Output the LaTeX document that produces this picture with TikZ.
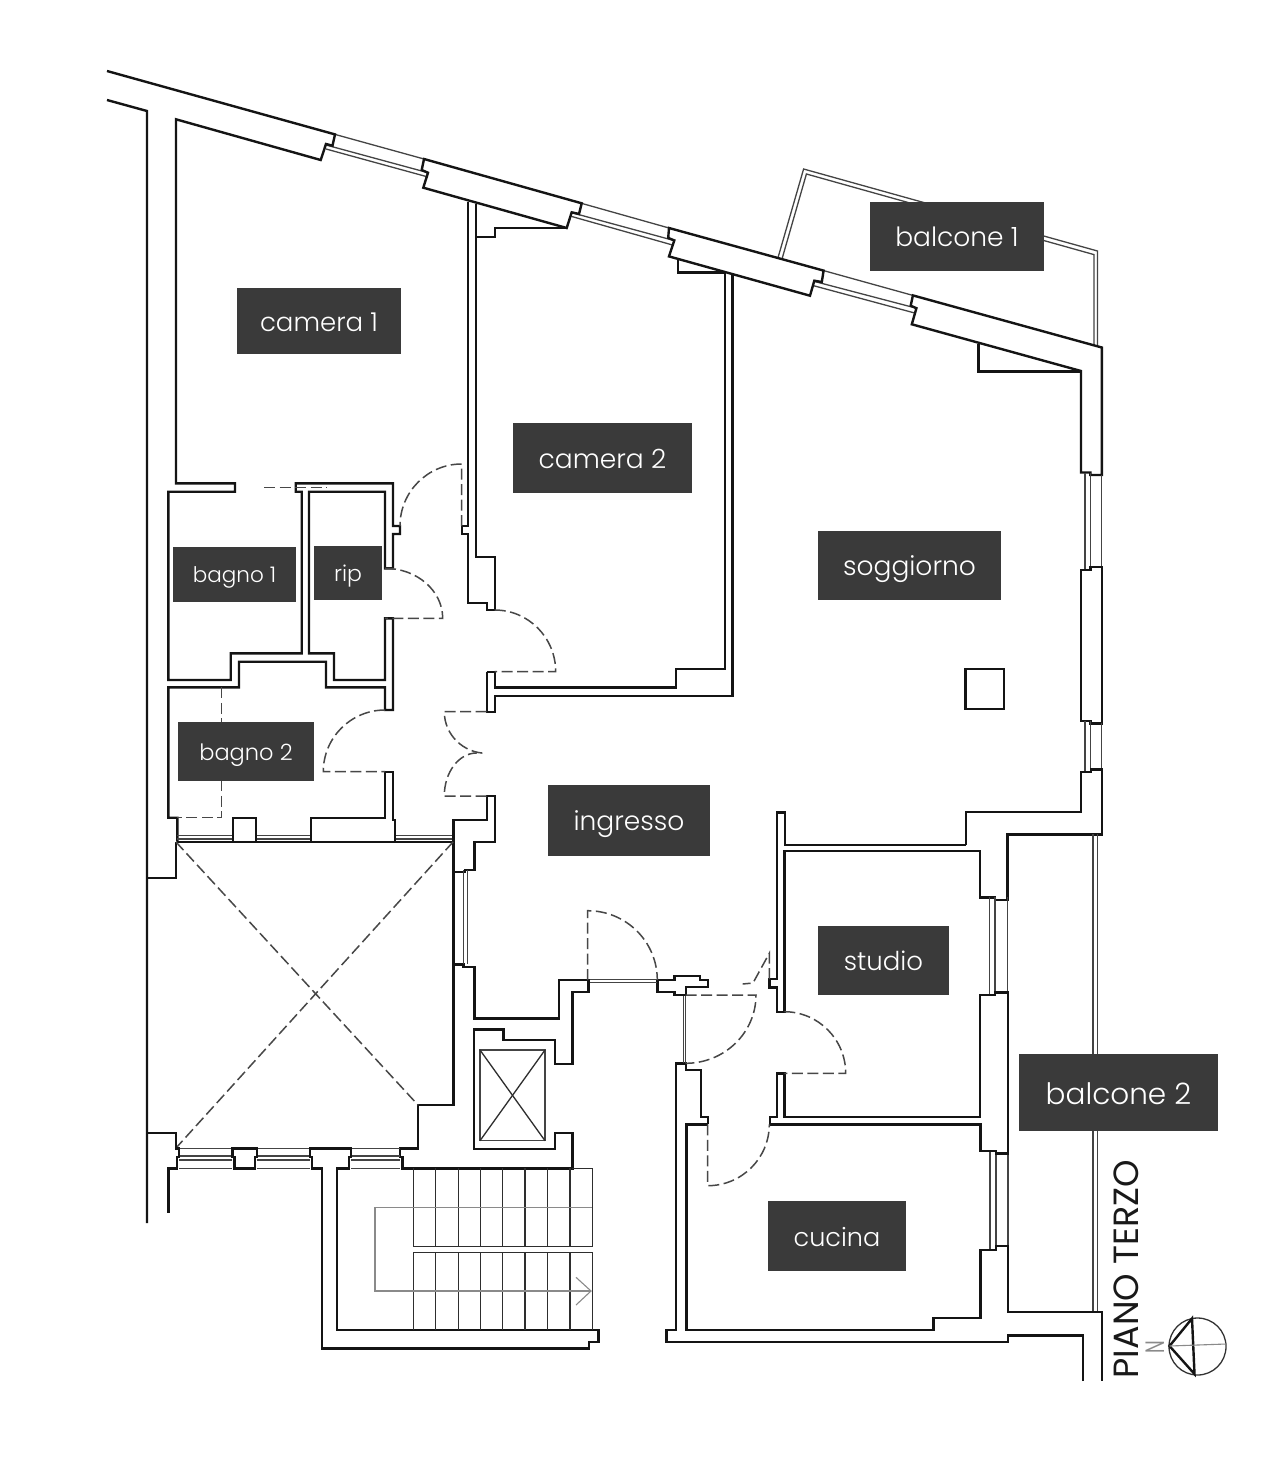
\documentclass[tikz,border=0pt]{standalone}
\usepackage{fontspec}
\newfontfamily\labfont{Poppins Light}
\newfontfamily\capfont{Poppins}
\definecolor{labbg}{HTML}{3A3A3A}
\definecolor{thinc}{HTML}{444444}
\definecolor{grayc}{HTML}{8A8A8A}
\tikzset{
  wall/.style={draw=black!92,line width=2.4pt,line join=miter,line cap=butt},
  thinl/.style={draw=thinc,line width=1.3pt},
  tread/.style={draw=black!82,line width=1.3pt},
  grayl/.style={draw=grayc,line width=1.1pt},
  doorl/.style={draw=black!72,line width=1.5pt,dash pattern=on 11pt off 4.5pt},
  roomlabel/.style={fill=labbg,text=white,inner sep=0pt,anchor=center,text height=20pt,text depth=0pt},
  labsize/.style={font=\labfont\fontsize{#1}{#1}\selectfont},
}
\begin{document}
\begin{tikzpicture}[x=1pt,y=-1pt]
\useasboundingbox (0,0) rectangle (1284,1475);
\fill[white] (0,0) rectangle (1284,1475);
% balcony 1
\draw[thinl] (777.9,258) -- (803.6,169) -- (1097.5,251) -- (1097.5,345.7);
\draw[thinl] (782,259) -- (806.4,174) -- (1094,254.6) -- (1094,345.7);
% north windows
\draw[thinl] (335,134.4) -- (424,159);
\draw[thinl] (326,145) -- (428,172.7);
\draw[thinl] (326,149) -- (428,177);
\draw[thinl] (581.4,203.3) -- (669,228);
\draw[thinl] (572.5,212.9) -- (673.6,240.4);
\draw[thinl] (571.4,216.4) -- (672.5,245);
\draw[thinl] (823.6,270.6) -- (912.9,295.4);
\draw[thinl] (814.3,281.4) -- (916.4,308.2);
\draw[thinl] (813.6,285.7) -- (914.3,312.9);
% north wall
\draw[wall] (107,71) -- (335,134.4) -- (332.5,145.7) -- (326,144) -- (320.7,160) -- (176,119.3) -- (176,483.3) -- (235,483.3) -- (235,491.7) -- (168.3,491.7) -- (168.3,680) -- (230.7,680) -- (230.7,653.3) -- (301.7,653.3) -- (301.7,491.7) -- (295.7,491.7) -- (295.7,483.3) -- (393,483.3) -- (393,526) -- (400,526) -- (400,534) -- (393,534) -- (393,568.3) -- (385,568.3) -- (385,491.7) -- (309,491.7) -- (309,653.3) -- (334,653.3) -- (334,680) -- (385,680) -- (385,618.3) -- (393,618.3) -- (393,710) -- (385,710) -- (385,687.3) -- (326,687.3) -- (326,661.7) -- (239,661.7) -- (239,687.3) -- (168.3,687.3) -- (168.3,817.7) -- (177.3,817.7) -- (177.3,841.7);
\draw[wall] (107,100) -- (147,111) -- (147,1223);
\draw[wall] (424,159) -- (421.7,170) -- (428,172.7) -- (423.3,187.7) -- (566.7,228) -- (571.7,212.3) -- (579,214) -- (581.7,203.3) -- (424,159) -- cycle;
\draw[wall] (669,228) -- (668.2,237.9) -- (674.3,240.4) -- (669,256.4) -- (810,295.7) -- (814.3,280.7) -- (821.8,282) -- (823.6,270.6) -- cycle;
\draw[wall] (912.9,295.4) -- (910.7,305.7) -- (916.4,308.2) -- (911.8,324.3) -- (1081,371) -- (1081,472.5) -- (1090.4,472.5) -- (1090.4,475) -- (1101.8,475) -- (1101.8,347.5) -- cycle;
% camera walls
\draw[wall] (468,201.6) -- (468,526) -- (461.7,526) -- (461.7,534) -- (468,534) -- (468,602.7) -- (486.7,602.7) -- (486.7,610) -- (494.7,610) -- (494.7,556.7) -- (475.7,556.7) -- (475.7,203.9);
\draw[wall] (475.7,236.7) -- (495,236.7) -- (495,227.7) -- (566.7,227.7);
\draw[wall] (486.7,671.7) -- (494.7,671.7) -- (494.7,687.3) -- (676,687.3) -- (676,669) -- (725,669) -- (725,272.5) -- (677.9,272.5) -- (677.9,260);
\draw[wall] (486.7,671.7) -- (486.7,711.7) -- (494.7,711.7) -- (494.7,695.7) -- (732.5,695.7) -- (732.5,273.6);
% east side
\draw[thinl] (1085,472.5) -- (1085,570);
\draw[thinl] (1090.4,472.5) -- (1090.4,570);
\draw[thinl] (1101.8,475) -- (1101.8,567);
\draw[wall] (1081,720.7) -- (1081,570) -- (1090.4,570) -- (1090.4,567) -- (1101.8,567) -- (1101.8,723.3) -- (1090.4,723.3) -- (1090.4,720.7) -- cycle;
\draw[thinl] (1085,720.7) -- (1085,771.7);
\draw[thinl] (1090.7,720.7) -- (1090.7,771.7);
\draw[thinl] (1101.8,723.3) -- (1101.8,769.3);
\draw[wall] (965.7,844.7) -- (965.7,812) -- (1081,812) -- (1081,771.7) -- (1090.7,771.7) -- (1090.7,769.3) -- (1101.8,769.3) -- (1101.8,834.3) -- (1007.3,834.3) -- (1007.3,900) -- (995,900) -- (995,897.3) -- (980,897.3) -- (980,850.7) -- (784.3,850.7) -- (784.3,1011.7) -- (776.7,1011.7) -- (776.7,987.3) -- (769.3,987.3) -- (769.3,979) -- (776.7,979) -- (776.7,812.3) -- (785,812.3) -- (785,844.7) -- (965.7,844.7);
% balcony 2 rail
\draw[thinl] (1093,834.3) -- (1093,1311.7);
\draw[thinl] (1097.5,834.3) -- (1097.5,1311.7);
% studio windows & walls
\foreach \xa in {989.3,995,1007.3} \draw[thinl] (\xa,897.3) -- (\xa,995);
\foreach \xa in {990,996,1008} \draw[thinl] (\xa,1150.7) -- (\xa,1250);
\draw[wall] (784.3,1073.3) -- (776.7,1073.3) -- (776.7,1116.7) -- (770,1116.7) -- (770,1124.3) -- (980.6,1124.3) -- (980.6,1150.7) -- (996,1150.7) -- (996,1153.3) -- (1008,1153.3) -- (1008,992.3) -- (995,992.3) -- (995,995) -- (980,995) -- (980,1116.7) -- (784.3,1116.7) -- cycle;
% kitchen
\draw[wall] (707.7,1124.3) -- (686.4,1124.3) -- (686.4,1330) -- (933.5,1330) -- (933.5,1318) -- (980.6,1318) -- (980.6,1250) -- (996,1250) -- (996,1245.7) -- (1008,1245.7) -- (1008,1311.7) -- (1102,1311.7) -- (1102,1381);
\draw[wall] (1083,1381) -- (1083,1335.3) -- (1008,1335.3) -- (1008,1341.7) -- (666.5,1341.7) -- (666.5,1330) -- (676,1330) -- (676,1063.3) -- (685.7,1063.3) -- (685.7,1070) -- (701,1070) -- (701,1116.7) -- (707.7,1116.7) -- (707.7,1124.3);
% entry jamb
\draw[thinl] (683.3,995) -- (683.3,1063.3);
\draw[thinl] (685.7,995) -- (685.7,1063.3);
\draw[wall] (657.3,980) -- (657.3,991.7) -- (674.3,991.7) -- (674.3,995) -- (685.7,995) -- (685.7,986.7) -- (707.7,986.7) -- (707.7,980) -- (700,980) -- (700,975.7) -- (674.3,975.7) -- (674.3,980) -- cycle;
\draw[thinl] (587.7,979.3) -- (657.3,979.3);
\draw[thinl] (587.7,982.5) -- (657.3,982.5);
% bagno 2 south
\foreach \xa/\xb in {177.3/232.7,255.7/311,395/452} {\draw[thinl] (\xa,835.7) -- (\xb,835.7); \draw[thinl] (\xa,839) -- (\xb,839);}
\draw[wall] (177,841.7) -- (453.3,841.7);
\draw[wall] (232.7,841.7) -- (232.7,817.7) -- (255.7,817.7) -- (255.7,841.7);
\draw[wall] (311,841.7) -- (311,817.7) -- (385,817.7) -- (385,771.7) -- (393,771.7) -- (393,820) -- (395,820) -- (395,841.7);
% shaft
\draw[wall] (176,841.7) -- (176,878) -- (147,878);
\draw[wall] (453.3,841.7) -- (453.3,820) -- (486.7,820) -- (486.7,796) -- (494.7,796) -- (494.7,841.7) -- (474.3,841.7) -- (474.3,870) -- (465,870) -- (465,871.7) -- (453.3,871.7);
\draw[wall] (453.3,841.7) -- (453.3,1105) -- (418,1105) -- (418,1148.3) -- (400,1148.3) -- (400,1156.7) -- (402.3,1156.7) -- (402.3,1168.3) -- (572.3,1168.3) -- (572.3,1132.7) -- (555,1132.7) -- (555,1149) -- (474,1149) -- (474,1029.3) -- (503.3,1029.3) -- (503.3,1040) -- (555,1040) -- (555,1064) -- (572.3,1064) -- (572.3,991.7) -- (588.3,991.7) -- (588.3,980) -- (559,980) -- (559,1018.3) -- (474.3,1018.3) -- (474.3,966.7) -- (463.3,966.7) -- (463.3,964.3) -- (453.3,964.3);
\draw[thinl] (463.3,870) -- (463.3,964.3);
\draw[thinl] (467.3,870) -- (467.3,964.3);
% lift
\draw[draw=thinc,line width=1.5pt] (480,1050) rectangle (545,1140.7);
\draw[tread] (480,1050) -- (545,1140.7);
\draw[tread] (545,1050) -- (480,1140.7);
% void diagonals
\draw[doorl] (176,842) -- (418,1105);
\draw[doorl] (453,842) -- (176,1148);
% south windows
\foreach \xa/\xb in {179/232.3,256.7/310,351/400} \foreach \ya in {1148.3,1156,1160,1168.3} \draw[thinl] (\xa,\ya) -- (\xb,\ya);
\draw[wall] (147,1133) -- (175.7,1133) -- (175.7,1148.3) -- (179,1148.3) -- (179,1156.7) -- (176.7,1156.7) -- (176.7,1168.3) -- (168.3,1168.3) -- (168.3,1212.7);
\draw[wall] (232.3,1148.3) -- (256.7,1148.3) -- (256.7,1156.7) -- (255,1156.7) -- (255,1168.3) -- (234.3,1168.3) -- (234.3,1156.7) -- (232.3,1156.7) -- cycle;
\draw[wall] (310,1148.3) -- (351,1148.3) -- (351,1156.7) -- (349,1156.7) -- (349,1168.3) -- (336.7,1168.3) -- (336.7,1330) -- (598.3,1330) -- (598.3,1341.7) -- (589,1341.7) -- (589,1348.3) -- (321.7,1348.3) -- (321.7,1168.3) -- (311.7,1168.3) -- (311.7,1156.7) -- (310,1156.7) -- cycle;
% stairs
\foreach \xa in {413.3,435.7,458.3,480.7,502.7,525,547.3,570,592.3} {\draw[tread] (\xa,1168.3) -- (\xa,1246.7); \draw[tread] (\xa,1252.3) -- (\xa,1330);}
\draw[tread] (572.3,1168.3) -- (592.3,1168.3);
\draw[tread] (413.3,1246.7) -- (592.3,1246.7);
\draw[tread] (413.3,1252.3) -- (592.3,1252.3);
\draw[grayl] (591.7,1207.3) -- (375,1207.3) -- (375,1291) -- (591,1291);
\draw[grayl] (576,1277.3) -- (591,1291) -- (576,1305);
% soggiorno details
\draw[wall] (978.6,344) -- (978.6,371.4) -- (1081,371.4);
\draw[wall] (965.4,669) rectangle (1004,709);
% doors
\draw[doorl] (461.7,526) -- (461.7,464) arc[start angle=90,end angle=180,x radius=61.7pt,y radius=62pt];
\draw[doorl] (385,568.3) arc[start angle=90,end angle=0,x radius=57.7pt,y radius=50pt] -- (385,618.3);
\draw[doorl] (494.7,610) arc[start angle=90,end angle=0,x radius=61pt,y radius=61.7pt] -- (494.7,671.7);
\draw[doorl] (385,710) arc[start angle=90,end angle=180,x radius=61.7pt,y radius=61.7pt] -- (385,771.7);
\draw[doorl] (486.7,711.7) -- (444.3,711.7) arc[start angle=180,end angle=270,x radius=42.4pt,y radius=41.6pt];
\draw[doorl] (486.7,796) -- (444.3,796) arc[start angle=180,end angle=90,x radius=32.4pt,y radius=43pt];
\draw[doorl] (587.7,980) -- (587.7,910.7) arc[start angle=90,end angle=0,x radius=69.6pt,y radius=69.3pt];
\draw[doorl] (685.7,995) -- (756,995) arc[start angle=0,end angle=-90,x radius=70.3pt,y radius=68.3pt];
\draw[doorl] (784.3,1011.7) arc[start angle=90,end angle=0,x radius=61.4pt,y radius=61.6pt] -- (784.3,1073.3);
\draw[doorl] (707.7,1124.3) -- (707.7,1185.7) arc[start angle=270,end angle=360,x radius=61.6pt,y radius=61.4pt];
\draw[doorl] (769.3,979) -- (769.3,953.3) -- (753,983) -- (742.7,984);
\draw[doorl] (264,487.7) -- (326.7,487.7);
\draw[doorl] (221.7,687.3) -- (221.7,817.7) -- (177.3,817.7);
% compass
\draw[draw=black!80,line width=1.3pt] (1197.5,1346.5) circle[radius=28.5];
\draw[wall] (1192,1318.5) -- (1169.5,1346) -- (1194.5,1374) -- cycle;
\draw[grayl] (1169.5,1346) -- (1226,1344);
\node[text=grayc,font=\capfont\fontsize{19}{19}\selectfont,rotate=90,inner sep=0pt] (north) at (1155.5,1347.5) {\scalebox{0.95}[1.4]{N}};
\node[text=black!90,font=\capfont\fontsize{35}{36}\selectfont,rotate=90,inner sep=0pt] (title) at (1126.5,1269) {PIANO TERZO};
% labels
\node[roomlabel,labsize=26,minimum width=164pt,minimum height=66pt] (cam1) at (319,321) {camera 1};
\node[roomlabel,labsize=26.5,minimum width=179pt,minimum height=70pt] (cam2) at (602.5,458) {camera 2};
\node[roomlabel,labsize=26.5,minimum width=174pt,minimum height=69pt] (balc1) at (957,236.5) {balcone 1};
\node[roomlabel,labsize=26.5,minimum width=183pt,minimum height=69pt] (sogg) at (909.5,565.5) {soggiorno};
\node[roomlabel,labsize=21.5,text height=16pt,minimum width=123pt,minimum height=55pt] (bagno1) at (234.5,574.5) {bagno 1};
\node[roomlabel,labsize=22,text height=16pt,minimum width=68pt,minimum height=54pt] (rip) at (348,573) {rip};
\node[roomlabel,labsize=22.5,text height=18pt,minimum width=136pt,minimum height=59pt] (bagno2) at (246,751.5) {bagno 2};
\node[roomlabel,labsize=26.5,minimum width=162pt,minimum height=71pt] (ingr) at (629,820.5) {ingresso};
\node[roomlabel,labsize=26,minimum width=131pt,minimum height=69pt] (studio) at (883.5,960.5) {studio};
\node[roomlabel,labsize=29.5,text height=23pt,minimum width=199pt,minimum height=77pt] (balc2) at (1118.5,1092.5) {balcone 2};
\node[roomlabel,labsize=25.5,minimum width=138pt,minimum height=70pt] (cucina) at (837,1236) {cucina};
\end{tikzpicture}
\end{document}
